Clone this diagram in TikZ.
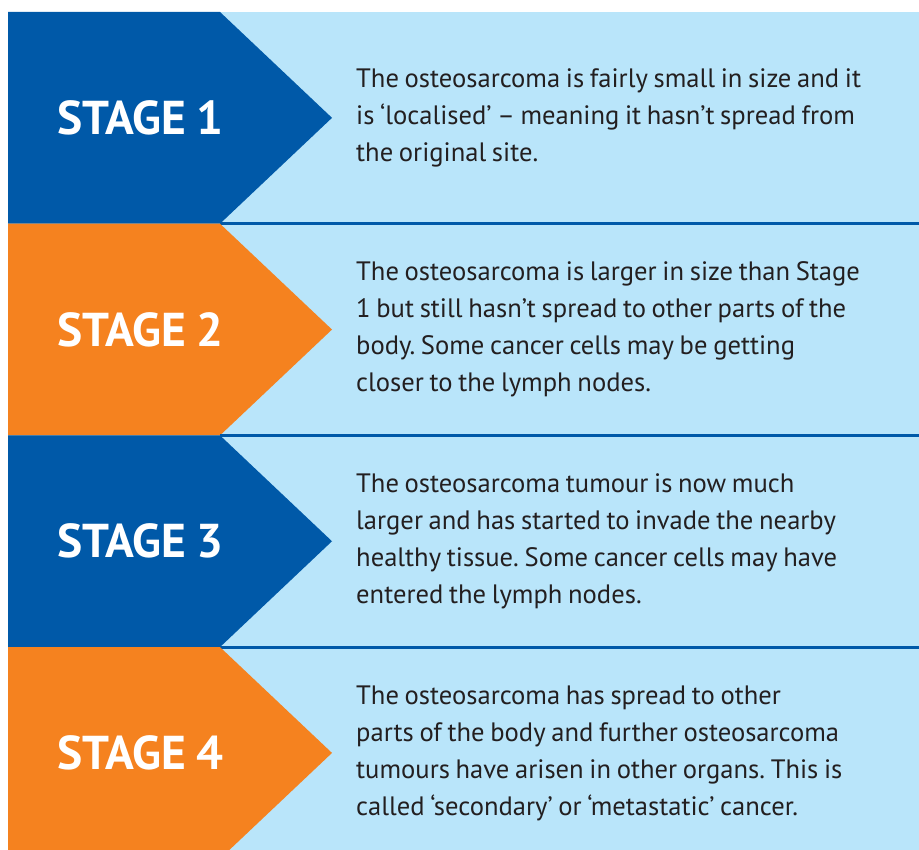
\documentclass[tikz,border=0pt]{standalone}
\usepackage{fontspec}
\setmainfont{PT Sans}[WordSpace=0.8]
\frenchspacing
\usetikzlibrary{positioning, calc}
\definecolor{stageblue}{HTML}{0059A8}
\definecolor{stageorange}{HTML}{F5821F}
\definecolor{panelblue}{HTML}{B9E5FA}
\definecolor{bodygrey}{HTML}{231F20}
\tikzset{
    stagelabel/.style={text=white, font=\fontsize{47.5}{50}\selectfont\bfseries, inner sep=0, anchor=west},
    stagetext/.style={text=bodygrey, font=\fontsize{26.6}{37}\selectfont, align=left, anchor=west, inner sep=0},
    rowline/.style={stageblue, line width=3pt},
}
\begin{document}
\begin{tikzpicture}[x=1pt, y=-1pt]
    \def\xleft{8}
    \def\ytop{12}
    \def\rowh{211.7}
    \def\xback{220}
    \def\xtip{332}

    \useasboundingbox (0,0) rectangle (919,850);

    % panel behind the text
    \fill[panelblue] (\xleft,\ytop) rectangle (919,850);

    \begin{scope}
        \clip (0,0) rectangle (919,850);
        \foreach \i/\col/\txt in {
            1/stageblue/{The osteosarcoma is fairly small in size and it\\is ‘localised’ – meaning it hasn’t spread from\\the original site.},
            2/stageorange/{The osteosarcoma is larger in size than Stage\\1 but still hasn’t spread to other parts of the\\body. Some cancer cells may be getting\\closer to the lymph nodes.},
            3/stageblue/{The osteosarcoma tumour is now much\\larger and has started to invade the nearby\\healthy tissue. Some cancer cells may have\\entered the lymph nodes.},
            4/stageorange/{The osteosarcoma has spread to other\\parts of the body and further osteosarcoma\\tumours have arisen in other organs. This is\\called ‘secondary’ or ‘metastatic’ cancer.}}
        {
            \pgfmathsetmacro{\ya}{\ytop+(\i-1)*\rowh}
            \pgfmathsetmacro{\ym}{\ya+0.5*\rowh}
            \pgfmathsetmacro{\yb}{\ya+\rowh}

            % chevron
            \fill[\col] (\xleft,\ya) -- (\xback,\ya) -- (\xtip,\ym)
                -- (\xback,\yb) -- (\xleft,\yb) -- cycle;

            % separator under the row
            \ifnum\i<4
                \draw[rowline] (\xback,\yb) -- (919,\yb);
            \fi

            \node[stagelabel] (stage\i) at (57,\ym) {STAGE \i};
            \node[stagetext] (desc\i) at (356,\ym) {\txt};
        }
    \end{scope}
\end{tikzpicture}
\end{document}
